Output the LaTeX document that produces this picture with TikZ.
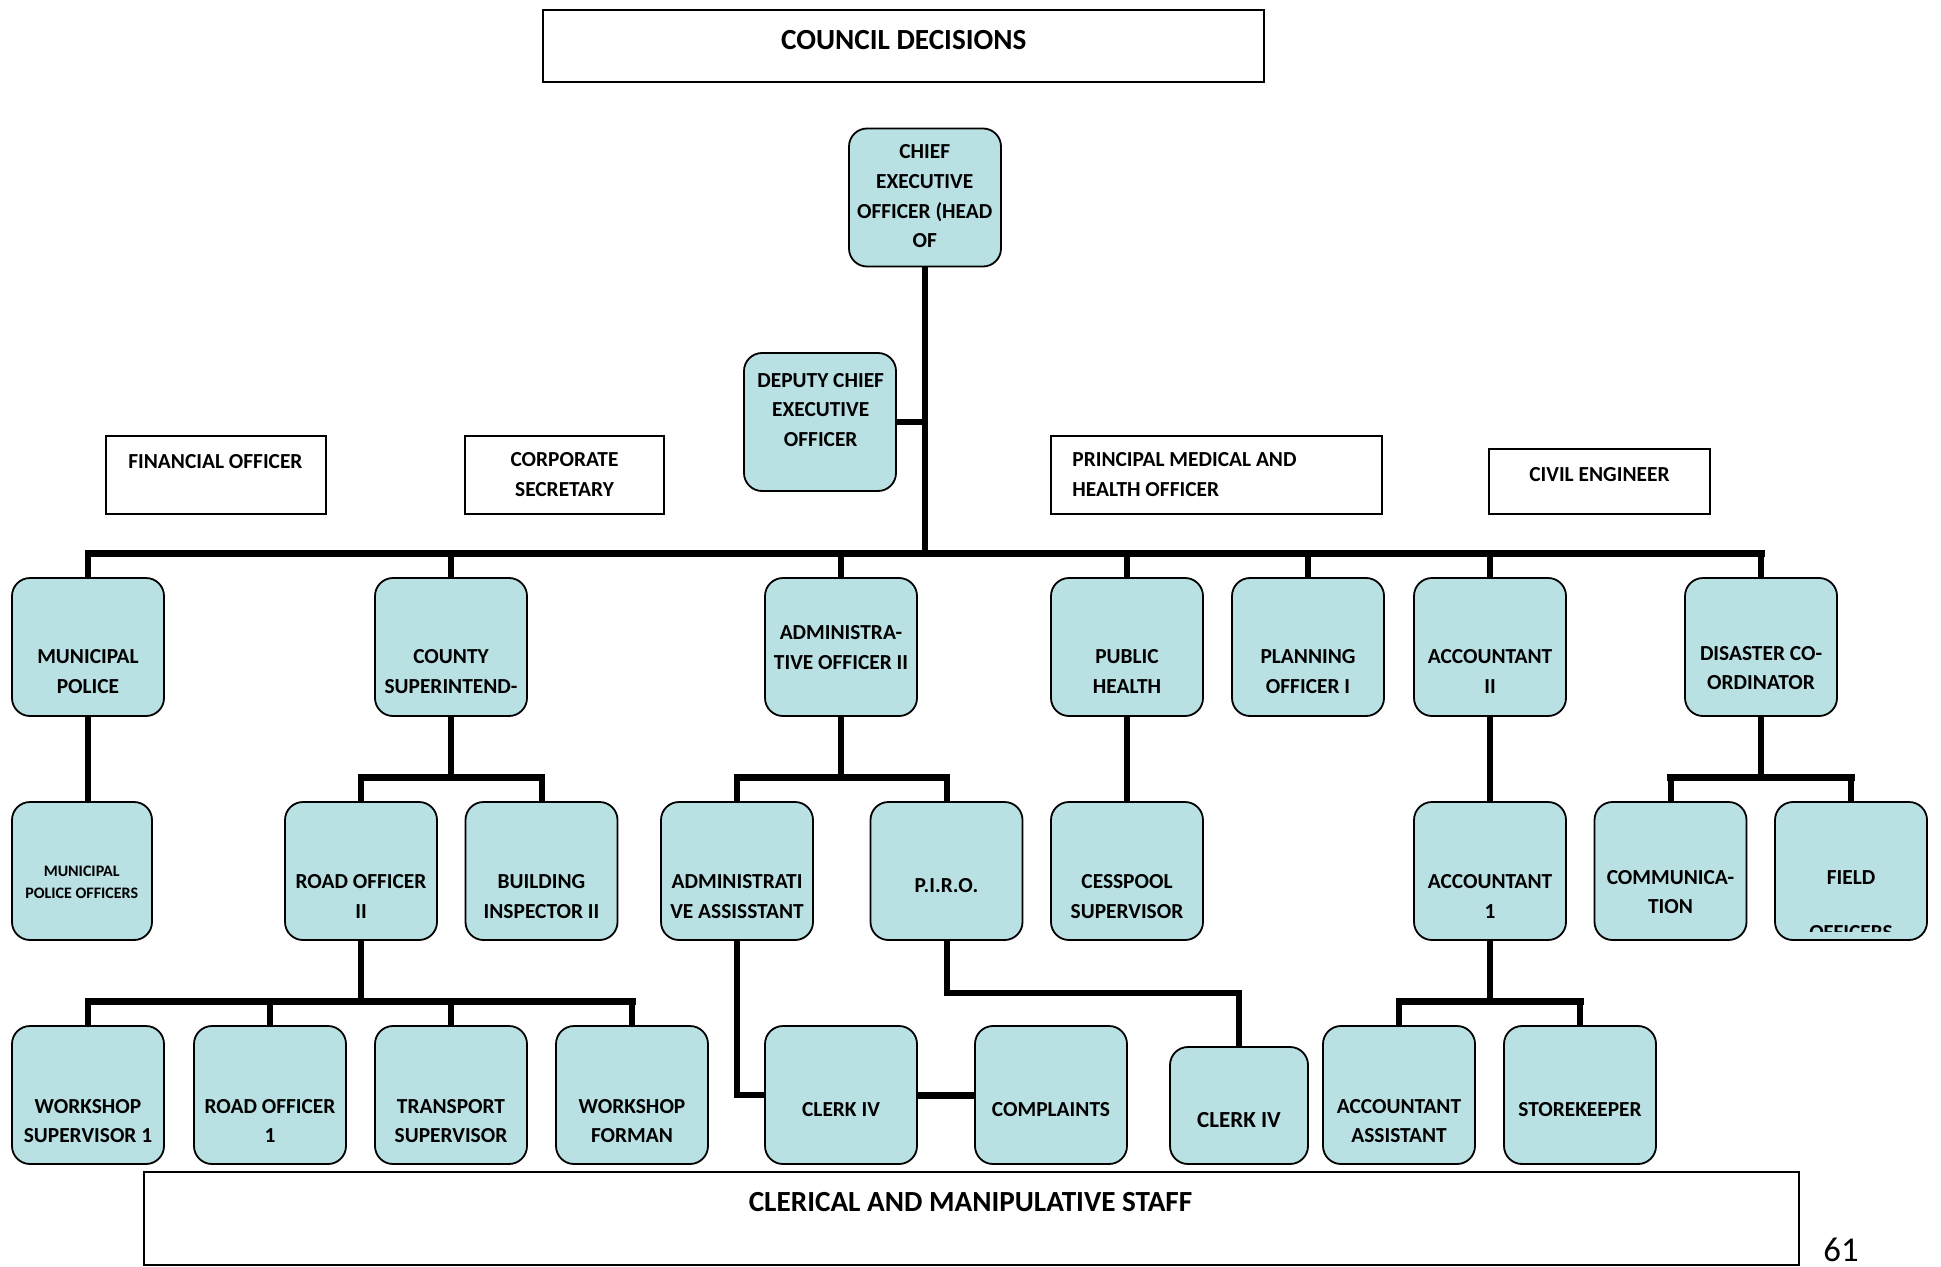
\documentclass[tikz,border=0pt]{standalone}
\usepackage{fontspec}
\setmainfont{Carlito}
\definecolor{boxfill}{RGB}{185,224,227}
\pgfdeclarelayer{bg}
\pgfsetlayers{bg,main}
\begin{document}
\begin{tikzpicture}[x=0.5pt,y=-0.5pt,
  box/.style={draw=black, line width=0.9pt, fill=boxfill, rounded corners=9pt,
    minimum width=76pt, minimum height=69pt, inner sep=0pt},
  rbox/.style={draw=black, line width=0.9pt, inner sep=0pt},
  lbl/.style={font=\bfseries\fontsize{10.7}{14.85}\selectfont, align=center, inner sep=0pt, yshift=-1pt},
  big/.style={font=\bfseries\fontsize{14.6}{18}\selectfont, inner sep=0pt, yshift=-0.8pt},
  conn/.style={line width=3pt, line cap=rect},
  busline/.style={line width=3.5pt, line cap=rect}]
\useasboundingbox (0,0) rectangle (1941,1267);

% top rectangles
\node[rbox, minimum width=360.5pt, minimum height=36pt] (council) at (903.5,46) {};
\node[big] (councilT) at (903.7,38.4) {COUNCIL DECISIONS};
\node[rbox, minimum width=110pt, minimum height=39pt] (fin) at (216,475) {};
\node[lbl] (finT) at (215.4,459.3) {FINANCIAL OFFICER};
\node[rbox, minimum width=99.5pt, minimum height=39pt] (corp) at (564.5,475) {};
\node[lbl] (corpT) at (564.5,472.3) {CORPORATE\\SECRETARY};
\node[rbox, minimum width=165.5pt, minimum height=39pt] (pmo) at (1216.5,475) {};
\node[lbl, align=left, anchor=west] (pmoT) at (1072,472.3) {PRINCIPAL MEDICAL AND\\HEALTH OFFICER};
\node[rbox, minimum width=110.5pt, minimum height=32.5pt] (civ) at (1599.5,481.5) {};
\node[lbl] (civT) at (1599.4,472.9) {CIVIL ENGINEER};

% CEO and deputy
\node[box] (ceo) at (925,197.5) {};
\node[lbl] (ceoT) at (924.7,194.4) {CHIEF\\EXECUTIVE\\OFFICER (HEAD\\OF};
\node[box] (dep) at (820,422) {};
\node[lbl] (depT) at (820.7,407.9) {DEPUTY CHIEF\\EXECUTIVE\\OFFICER};

% level 1
\node[box] (mp) at (88,647) {};
\node[lbl] (mpT) at (88,669.7) {MUNICIPAL\\POLICE};
\node[box] (cs) at (451,647) {};
\node[lbl] (csT) at (451,669.7) {COUNTY\\SUPERINTEND-};
\node[box] (ao) at (841,647) {};
\node[lbl] (aoT) at (841,645.6) {ADMINISTRA-\\TIVE OFFICER II};
\node[box] (ph) at (1127,647) {};
\node[lbl] (phT) at (1127,669.7) {PUBLIC\\HEALTH};
\node[box] (po) at (1308,647) {};
\node[lbl] (poT) at (1308,669.7) {PLANNING\\OFFICER I};
\node[box] (acc) at (1490,647) {};
\node[lbl] (accT) at (1490,669.7) {ACCOUNTANT\\II};
\node[box] (dis) at (1761,647) {};
\node[lbl] (disT) at (1761,666) {DISASTER CO-\\ORDINATOR};

% level 2
\node[box, minimum width=70pt] (mpo) at (82,871) {};
\node[lbl, font=\bfseries\fontsize{8}{11}\selectfont] (mpoT) at (81.7,880.1) {MUNICIPAL\\POLICE OFFICERS};
\node[box] (ro2) at (361,871) {};
\node[lbl] (ro2T) at (361,894.4) {ROAD OFFICER\\II};
\node[box] (bi) at (541.5,871) {};
\node[lbl] (biT) at (541.5,894.4) {BUILDING\\INSPECTOR II};
\node[box] (aa) at (737,871) {};
\node[lbl] (aaT) at (737,894.4) {ADMINISTRATI\\VE ASSISSTANT};
\node[box] (piro) at (946.5,871) {};
\node[lbl] (piroT) at (946.5,883.9) {P.I.R.O.};
\node[box] (cp) at (1127,871) {};
\node[lbl] (cpT) at (1127,894.4) {CESSPOOL\\SUPERVISOR};
\node[box] (ac1) at (1490,871) {};
\node[lbl] (ac1T) at (1490,894.4) {ACCOUNTANT\\1};
\node[box] (com) at (1670.5,871) {};
\node[lbl] (comT) at (1670.5,890) {COMMUNICA-\\TION};
\node[box] (fo) at (1851,871) {};
\node[lbl] (foT) at (1851,875.2) {FIELD};
\begin{scope}
  \clip (1775,802) rectangle (1927,931);
  \node[lbl] (foT2) at (1851,931) {OFFICERS};
\end{scope}

% level 3
\node[box] (ws1) at (88,1095) {};
\node[lbl] (ws1T) at (88,1119.1) {WORKSHOP\\SUPERVISOR 1};
\node[box] (ro1) at (270,1095) {};
\node[lbl] (ro1T) at (270,1119.1) {ROAD OFFICER\\1};
\node[box] (ts) at (451,1095) {};
\node[lbl] (tsT) at (451,1119.1) {TRANSPORT\\SUPERVISOR};
\node[box] (wf) at (632,1095) {};
\node[lbl] (wfT) at (632,1119.1) {WORKSHOP\\FORMAN};
\node[box] (clk) at (841,1095) {};
\node[lbl] (clkT) at (841,1108) {CLERK IV};
\node[box] (cmp) at (1051,1095) {};
\node[lbl] (cmpT) at (1051,1108) {COMPLAINTS};
\node[box, minimum width=69pt, minimum height=58.5pt] (clk2) at (1239,1105.5) {};
\node[lbl, font=\bfseries\fontsize{11.5}{14.85}\selectfont] (clk2T) at (1239,1117.9) {CLERK IV};
\node[box] (aas) at (1399,1095) {};
\node[lbl] (aasT) at (1399,1119.1) {ACCOUNTANT\\ASSISTANT};
\node[box] (sk) at (1580,1095) {};
\node[lbl] (skT) at (1580,1108) {STOREKEEPER};

% bottom
\node[rbox, minimum width=827.5pt, minimum height=46.5pt] (cler) at (971.5,1218.5) {};
\node[big] (clerT) at (970.5,1200.8) {CLERICAL AND MANIPULATIVE STAFF};
\node[inner sep=0pt, font=\fontsize{17.4}{20}\selectfont] (pg) at (1841,1250) {61};

% connectors
\coordinate (b1) at (925,553);
\coordinate (b2) at (0,777);
\coordinate (b3) at (0,1001);
\coordinate (pb) at (946.5,993);
\begin{pgfonlayer}{bg}
  \draw[conn] (ceo.south) -- (b1);
  \draw[conn] (dep.east) -- (dep.east -| ceo.south);
  \draw[busline] (mp.north |- b1) -- (dis.north |- b1);
  \foreach \n in {mp,cs,ao,ph,po,acc,dis} \draw[conn] (\n.north) -- (\n.north |- b1);
  % level 1 -> 2
  \draw[conn] (mp.south) -- (mp.south |- mpo.north);
  \draw[conn] (ph.south) -- (cp.north);
  \draw[conn] (acc.south) -- (ac1.north);
  \draw[conn] (cs.south) -- (cs.south |- b2);
  \draw[busline] (ro2.north |- b2) -- (bi.north |- b2);
  \draw[conn] (ro2.north) -- (ro2.north |- b2);
  \draw[conn] (bi.north) -- (bi.north |- b2);
  \draw[conn] (ao.south) -- (ao.south |- b2);
  \draw[busline] (aa.north |- b2) -- (piro.north |- b2);
  \draw[conn] (aa.north) -- (aa.north |- b2);
  \draw[conn] (piro.north) -- (piro.north |- b2);
  \draw[conn] (dis.south) -- (dis.south |- b2);
  \draw[busline] (com.north |- b2) -- (fo.north |- b2);
  \draw[conn] (com.north) -- (com.north |- b2);
  \draw[conn] (fo.north) -- (fo.north |- b2);
  % level 2 -> 3
  \draw[conn] (ro2.south) -- (ro2.south |- b3);
  \draw[busline] (ws1.north |- b3) -- (wf.north |- b3);
  \foreach \n in {ws1,ro1,ts,wf} \draw[conn] (\n.north) -- (\n.north |- b3);
  \draw[conn, line cap=butt] (aa.south) |- (clk.west);
  \draw[busline, line cap=butt] (clk.east) -- (cmp.west);
  \draw[conn, line cap=butt] (piro.south) -- (pb) -| (clk2.north);
  \draw[conn] (ac1.south) -- (ac1.south |- b3);
  \draw[busline] (aas.north |- b3) -- (sk.north |- b3);
  \draw[conn] (aas.north) -- (aas.north |- b3);
  \draw[conn] (sk.north) -- (sk.north |- b3);
\end{pgfonlayer}
\end{tikzpicture}
\end{document}
